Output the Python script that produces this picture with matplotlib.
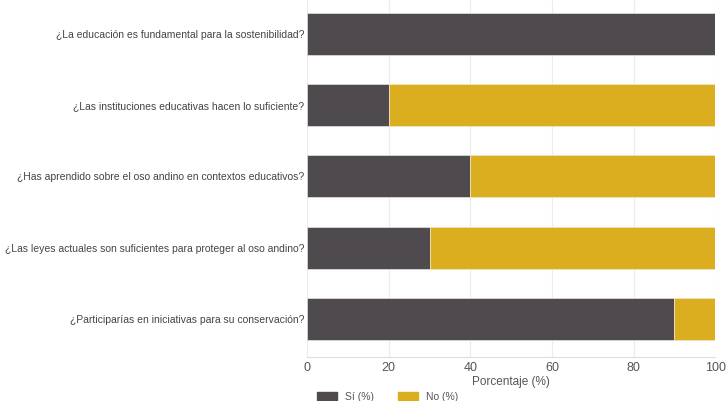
import numpy as np
import matplotlib.pyplot as plt
from matplotlib.patches import Patch

plt.rcParams['font.family'] = ['Liberation Sans', 'DejaVu Sans']

preguntas = ['¿La educación es fundamental para la sostenibilidad?',
             '¿Las instituciones educativas hacen lo suficiente?',
             '¿Has aprendido sobre el oso andino en contextos educativos?',
             '¿Las leyes actuales son suficientes para proteger al oso andino?',
             '¿Participarías en iniciativas para su conservación?']
si = [100, 20, 40, 30, 90]
no = [0, 80, 60, 70, 10]

col_si = '#4f4a4e'
col_no = '#dbae1f'

fig = plt.figure(figsize=(7.26, 4.01), dpi=100)
ax = fig.add_axes([0.423, 0.11, 0.562, 0.89])

y = np.arange(len(preguntas))
ax.barh(y, si, height=0.59, color=col_si, edgecolor='#d8d8d8', linewidth=0.6, zorder=3)
ax.barh(y, no, left=si, height=0.59, color=col_no, edgecolor='#f0e4c0', linewidth=0.6, zorder=3)

ax.set_yticks(y)
ax.set_yticklabels(preguntas, fontsize=7.45, color='#444444')
ax.set_ylim(4.533, -0.477)
ax.set_xlim(0, 100)
ax.set_xticks([0, 20, 40, 60, 80, 100])
ax.tick_params(axis='x', labelsize=9, colors='#555555', length=0, pad=4)
ax.tick_params(axis='y', length=0, pad=2)
ax.set_xlabel('Porcentaje (%)', fontsize=8.5, color='#555555', labelpad=1)

ax.grid(axis='x', color='#ececec', linewidth=0.8, zorder=0)
for s in ['top', 'right', 'left']:
    ax.spines[s].set_visible(False)
ax.spines['bottom'].set_color('#dddddd')

handles = [Patch(color=col_si, label='Sí (%)'), Patch(color=col_no, label='No (%)')]
fig.legend(handles=handles, loc='lower left', bbox_to_anchor=(0.424, -0.025), ncol=2,
           frameon=False, fontsize=7.5, handlelength=1.9, handleheight=0.9,
           handletextpad=0.8, columnspacing=2.3, labelcolor='#555555')

fig.savefig('out.png', dpi=100)
